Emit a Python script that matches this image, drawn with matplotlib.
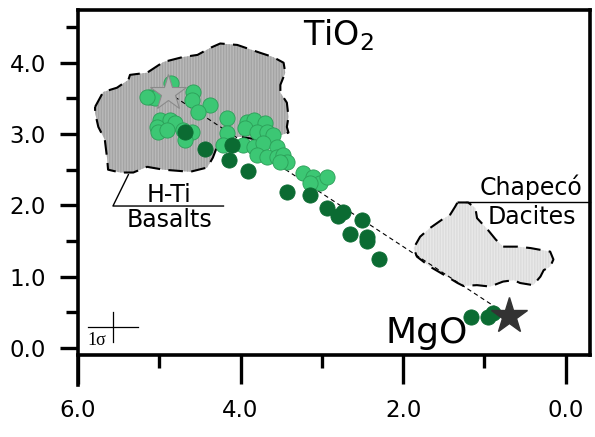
import matplotlib
matplotlib.use("Agg")
import matplotlib.pyplot as plt
from matplotlib.patches import Polygon

# MgO (wt%) and TiO2 (wt%)
light_mgo = [5.11, 5.05, 5.15, 4.85, 4.58, 4.60, 4.37, 4.52, 4.17, 4.99, 4.87, 5.03, 4.81,
             5.01, 4.90, 4.71, 4.60, 4.68, 3.92, 3.84, 3.70, 3.94, 3.80, 3.67, 3.60, 4.17,
             4.21, 3.97, 3.84, 3.72, 3.55, 3.80, 3.67, 3.55, 3.48, 3.43, 3.51, 3.23, 3.11,
             3.02, 3.14, 2.93]
light_tio2 = [3.52, 3.51, 3.52, 3.72, 3.59, 3.48, 3.41, 3.31, 3.23, 3.20, 3.20, 3.10, 3.16,
              3.03, 3.06, 3.06, 3.03, 2.92, 3.17, 3.20, 3.16, 3.09, 3.03, 3.03, 2.99, 3.02,
              2.85, 2.85, 2.82, 2.88, 2.82, 2.71, 2.68, 2.68, 2.71, 2.61, 2.61, 2.46, 2.40,
              2.32, 2.32, 2.40]
dark_mgo = [4.68, 4.44, 4.10, 4.14, 3.91, 3.43, 3.14, 2.93, 2.74, 2.80, 2.65, 2.50, 2.45,
            2.45, 2.30, 1.16, 0.96, 0.89]
dark_tio2 = [3.03, 2.79, 2.84, 2.64, 2.48, 2.19, 2.15, 1.96, 1.91, 1.85, 1.60, 1.80, 1.55,
             1.50, 1.25, 0.43, 0.43, 0.49]

basalt_mgo = [5.79, 5.69, 5.52, 5.38, 5.36, 5.15, 4.95, 4.71, 4.53, 4.37, 4.25, 4.04, 3.76,
              3.60, 3.47, 3.45, 3.51, 3.51, 3.43, 3.41, 3.43, 3.41, 3.57, 3.78, 4.00, 4.19,
              4.29, 4.34, 4.41, 4.62, 4.95, 5.15, 5.32, 5.48, 5.63, 5.64, 5.67, 5.75, 5.79]
basalt_tio2 = [3.38, 3.59, 3.65, 3.76, 3.83, 3.86, 4.01, 4.08, 4.11, 4.21, 4.27, 4.25, 4.14,
               4.08, 4.00, 3.86, 3.69, 3.58, 3.44, 3.24, 3.10, 3.02, 2.96, 2.92, 2.96, 2.95,
               2.82, 2.67, 2.53, 2.47, 2.50, 2.54, 2.46, 2.46, 2.50, 2.64, 2.92, 3.10, 3.30]
dacite_mgo = [1.33, 1.20, 1.11, 1.09, 0.96, 0.86, 0.77, 0.59, 0.43, 0.19, 0.15, 0.19, 0.27,
              0.31, 0.40, 0.56, 0.64, 0.77, 0.93, 1.09, 1.26, 1.33, 1.46, 1.67, 1.83, 1.87,
              1.79, 1.67, 1.52, 1.42, 1.36]
dacite_tio2 = [2.04, 2.04, 1.96, 1.82, 1.66, 1.52, 1.42, 1.42, 1.40, 1.35, 1.24, 1.14, 1.09,
               1.00, 0.88, 0.91, 0.95, 0.93, 0.86, 0.88, 0.87, 0.91, 1.00, 1.14, 1.28, 1.40,
               1.56, 1.68, 1.80, 1.87, 1.98]

parent = (4.89, 3.58)
dacite_end = (0.70, 0.45)
sigma_mgo, sigma_tio2 = 0.31, 0.21

fig = plt.figure(figsize=(5.95, 4.37), dpi=100)
ax = fig.add_axes([78 / 595, 82 / 437, 512 / 595, 345 / 437])
ax.set_xlim(6.0, -0.3)
ax.set_ylim(-0.1, 4.74)

# fields
ax.add_patch(Polygon(list(zip(basalt_mgo, basalt_tio2)), closed=True, facecolor="#b9b9b9",
                     edgecolor="#a4a4a4", hatch="||||||", linewidth=0, zorder=1))
ax.plot(basalt_mgo + basalt_mgo[:1], basalt_tio2 + basalt_tio2[:1], color="black", lw=1.5,
        dashes=(7, 4), zorder=2)
ax.add_patch(Polygon(list(zip(dacite_mgo, dacite_tio2)), closed=True, facecolor="#e8e8e8",
                     edgecolor="#dcdcdc", hatch="||||||", linewidth=0, zorder=1))
ax.plot(dacite_mgo + dacite_mgo[:1], dacite_tio2 + dacite_tio2[:1], color="black", lw=1.5,
        dashes=(7, 4), zorder=2)

# mixing line
ax.plot([parent[0], dacite_end[0]], [parent[1], dacite_end[1]], color="black", lw=0.8,
        dashes=(4, 3), zorder=3)

ax.scatter(light_mgo, light_tio2, s=120, color="#3cc774", edgecolor="#2c9e58", lw=0.6, zorder=4)
ax.scatter(dark_mgo, dark_tio2, s=120, color="#0b6b32", edgecolor="#0b6b32", lw=0.6, zorder=5)

ax.plot(*parent, marker="*", ms=27, color="#b3b3b3", mec="#8a8a8a", mew=0.8, zorder=6)
ax.plot(*dacite_end, marker="*", ms=27, color="#333333", mec="#333333", zorder=6)

# labels
ax.text(4.88, 2.15, "H-Ti", fontsize=17, ha="center", va="center")
ax.text(4.87, 1.80, "Basalts", fontsize=17, ha="center", va="center")
ax.plot([5.38, 5.57, 4.21], [2.43, 1.99, 1.99], color="black", lw=1.0)
ax.text(0.42, 2.25, "Chapecó", fontsize=17, ha="center", va="center")
ax.text(0.41, 1.84, "Dacites", fontsize=17, ha="center", va="center")
ax.plot([1.23, -0.3], [2.04, 2.04], color="black", lw=1.0, clip_on=False)
ax.text(2.80, 4.25, "TiO$_2$", fontsize=24, ha="center", va="baseline")
ax.text(1.71, 0.07, "MgO", fontsize=26, ha="center", va="baseline")

# 1 sigma cross
ax.plot([5.57 - sigma_mgo, 5.57 + sigma_mgo], [0.295, 0.295], color="black", lw=0.9)
ax.plot([5.57, 5.57], [0.295 - sigma_tio2, 0.295 + sigma_tio2], color="black", lw=0.9)
ax.text(5.88, 0.04, "1σ", fontsize=13, family="Liberation Serif", ha="left", va="baseline")

# axes
for s in ax.spines.values():
    s.set_linewidth(2.6)
ax.spines["left"].set_bounds(-0.52, 4.74)
ax.set_xticks([6.0, 4.0, 2.0, 0.0])
ax.set_xticks([5.0, 3.0, 1.0], minor=True)
ax.set_yticks([0.0, 1.0, 2.0, 3.0, 4.0])
ax.set_yticks([0.5, 1.5, 2.5, 3.5, 4.5], minor=True)
ax.xaxis.set_major_formatter(matplotlib.ticker.FormatStrFormatter("%.1f"))
ax.yaxis.set_major_formatter(matplotlib.ticker.FormatStrFormatter("%.1f"))
ax.tick_params(axis="x", which="major", direction="out", length=21, width=2.4, pad=11,
               labelsize=16.5)
ax.tick_params(axis="x", which="minor", direction="out", length=9.5, width=2.4)
ax.tick_params(axis="y", which="major", direction="out", length=13, width=2.4, pad=10,
               labelsize=16.5)
ax.tick_params(axis="y", which="minor", direction="out", length=8.5, width=2.4)

fig.savefig("out.png", dpi=100)
